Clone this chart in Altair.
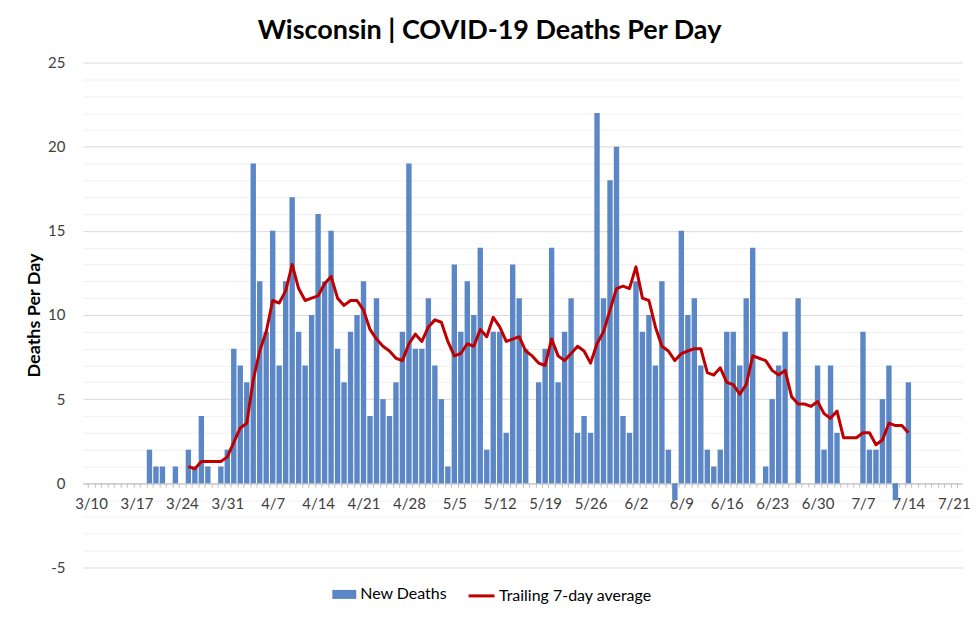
import altair as alt
import pandas as pd

# ---- data ----
bars_start = "2020-03-19"
new_deaths = [2, 1, 1, 0, 1, 0, 2, 1, 4, 1, 0, 1, 2,
              8, 7, 6, 19, 12, 9, 15, 7, 12, 17, 9, 7, 10, 16, 12, 15, 8, 6, 9, 10,
              12, 4, 11, 5, 4, 6, 9, 19, 8, 8,
              11, 7, 5, 1, 13, 9, 12, 10, 14, 2, 9, 9, 3, 13, 11, 8, 0, 6, 8, 14,
              6, 9, 11, 3, 4, 3, 22, 11, 18, 20, 4,
              3, 12, 9, 10, 7, 12, 2, -1, 15, 10, 11, 7, 2, 1, 2, 9, 9, 7, 11, 14,
              0, 1, 5, 7, 9, 0, 11, 0, 0, 7,
              2, 7, 3, 0, 0, 0, 9, 2, 2, 5, 7, -1, 0, 6]

avg_start = "2020-03-25"
trailing_avg = [1.00, 0.86, 1.29, 1.29, 1.29, 1.29, 1.57,
                2.43, 3.29, 3.57, 6.14, 7.86, 9.00, 10.86, 10.71, 11.43, 13.00,
                11.57, 10.86, 11.00, 11.14, 11.86, 12.29, 11.00, 10.57, 10.86, 10.86,
                10.29, 9.14, 8.57, 8.14, 7.86, 7.43, 7.29, 8.29, 8.86, 8.43,
                9.29, 9.71, 9.57, 8.43, 7.57, 7.71, 8.29, 8.14, 9.14, 8.71,
                9.86, 9.29, 8.43, 8.57, 8.71, 7.86, 7.57, 7.14, 7.00, 8.57,
                7.57, 7.29, 7.71, 8.14, 7.86, 7.14, 8.29, 9.00, 10.29, 11.57, 11.71,
                11.57, 12.86, 11.00, 10.86, 9.29, 8.14, 7.86, 7.29, 7.71, 7.86,
                8.00, 8.00, 6.57, 6.43, 6.86, 6.00, 5.86, 5.29, 5.86, 7.57,
                7.43, 7.29, 6.71, 6.43, 6.71, 5.14, 4.71, 4.71, 4.57, 4.86,
                4.14, 3.86, 4.29, 2.71, 2.71, 2.71, 3.00, 3.00, 2.29, 2.57, 3.57, 3.43, 3.43, 3.00]

axis_start = "2020-03-10"
week_labels = ["3/10", "3/17", "3/24", "3/31", "4/7", "4/14", "4/21", "4/28", "5/5", "5/12",
               "5/19", "5/26", "6/2", "6/9", "6/16", "6/23", "6/30", "7/7", "7/14", "7/21"]
y_min, y_max = -5, 25

series_names = ["New Deaths", "Trailing 7-day average"]
bar_color = "#5b87c6"
line_color = "#c00000"

# ---- tables ----
origin = pd.Timestamp(axis_start)
bar_dates = pd.date_range(bars_start, periods=len(new_deaths))
bars_df = pd.DataFrame({"day": (bar_dates - origin).days, "value": new_deaths,
                        "series": series_names[0]})
avg_dates = pd.date_range(avg_start, periods=len(trailing_avg))
line_df = pd.DataFrame({"day": (avg_dates - origin).days, "value": trailing_avg,
                        "series": series_names[1]})

n_days = 7 * (len(week_labels) - 1)
x_tick_values = [i / 2 for i in range(-1, 2 * n_days + 2)]
labels_js = "[" + ",".join("'%s'" % s for s in week_labels) + "]"

FONT = "Lato"
PLOT_H = 506

x_enc = alt.X(
    "day:Q",
    scale=alt.Scale(domain=[-0.5, n_days + 0.5], nice=False, zero=False),
    axis=alt.Axis(
        values=x_tick_values,
        title=None,
        grid=False,
        offset=-(PLOT_H / (y_max - y_min)) * (0 - y_min),
        domainColor="#bfbfbf",
        domainWidth=1,
        tickColor="#bfbfbf",
        tickSize=4,
        tickOpacity={"condition": {"test": "datum.value % 1 != 0", "value": 1}, "value": 0},
        labelExpr="datum.value % 7 == 0 ? " + labels_js + "[datum.value / 7] : ''",
        labelOverlap=False,
        labelFlush=False,
        labelBound=False,
        labelFont=FONT,
        labelFontSize=15,
        labelColor="#404040",
        labelPadding=9,
    ),
)

y_enc = alt.Y(
    "value:Q",
    scale=alt.Scale(domain=[y_min, y_max], nice=False, zero=False),
    axis=alt.Axis(
        values=list(range(y_min, y_max + 1)),
        title="Deaths Per Day",
        titleFont=FONT,
        titleFontSize=18,
        titleFontWeight="bold",
        titleColor="#000000",
        titleX=-48,
        titleBaseline="middle",
        grid=True,
        gridColor={"condition": {"test": "datum.value % 5 == 0", "value": "#d9d9d9"},
                   "value": "#f0f0f0"},
        gridWidth=1,
        ticks=False,
        tickSize=0,
        domain=False,
        labelExpr="datum.value % 5 == 0 ? '' + datum.value : ''",
        labelOverlap=False,
        labelFont=FONT,
        labelFontSize=15,
        labelColor="#404040",
        labelPadding=18,
    ),
)

bars = alt.Chart(bars_df).mark_bar(size=5.4).encode(
    x=x_enc,
    y=y_enc,
    color=alt.Color(
        "series:N",
        scale=alt.Scale(domain=[series_names[0]], range=[bar_color]),
        legend=alt.Legend(
            title=None, orient="none", legendX=250, legendY=521, padding=0,
            symbolType="M-1,-0.375H1V0.375H-1Z", symbolSize=576,
            symbolStrokeWidth=0, symbolOpacity=1,
            labelFont=FONT, labelFontSize=16, labelColor="#000000", labelOffset=4,
        ),
    ),
)

line = alt.Chart(line_df).mark_line(strokeWidth=3, strokeJoin="round").encode(
    x=x_enc,
    y=y_enc,
    color=alt.Color(
        "series:N",
        scale=alt.Scale(domain=[series_names[1]], range=[line_color]),
        legend=alt.Legend(
            title=None, orient="none", legendX=385, legendY=520, padding=0,
            symbolType="stroke", symbolSize=676, symbolStrokeWidth=3,
            labelFont=FONT, labelFontSize=16, labelColor="#000000", labelOffset=3,
        ),
    ),
)

chart = alt.layer(bars, line).resolve_scale(color="independent").properties(
    width=881,
    height=PLOT_H,
    autosize=alt.AutoSizeParams(type="none"),
    padding={"left": 75, "top": 54, "right": 10, "bottom": 39},
    background="white",
    title=alt.TitleParams(
        "Wisconsin | COVID-19 Deaths Per Day",
        font=FONT, fontSize=27, fontWeight="bold", color="#000000",
        anchor="middle", dx=-33, offset=11,
    ),
).configure_view(stroke=None)

chart.save("out.html", embed_options={"renderer": "svg", "actions": False})
